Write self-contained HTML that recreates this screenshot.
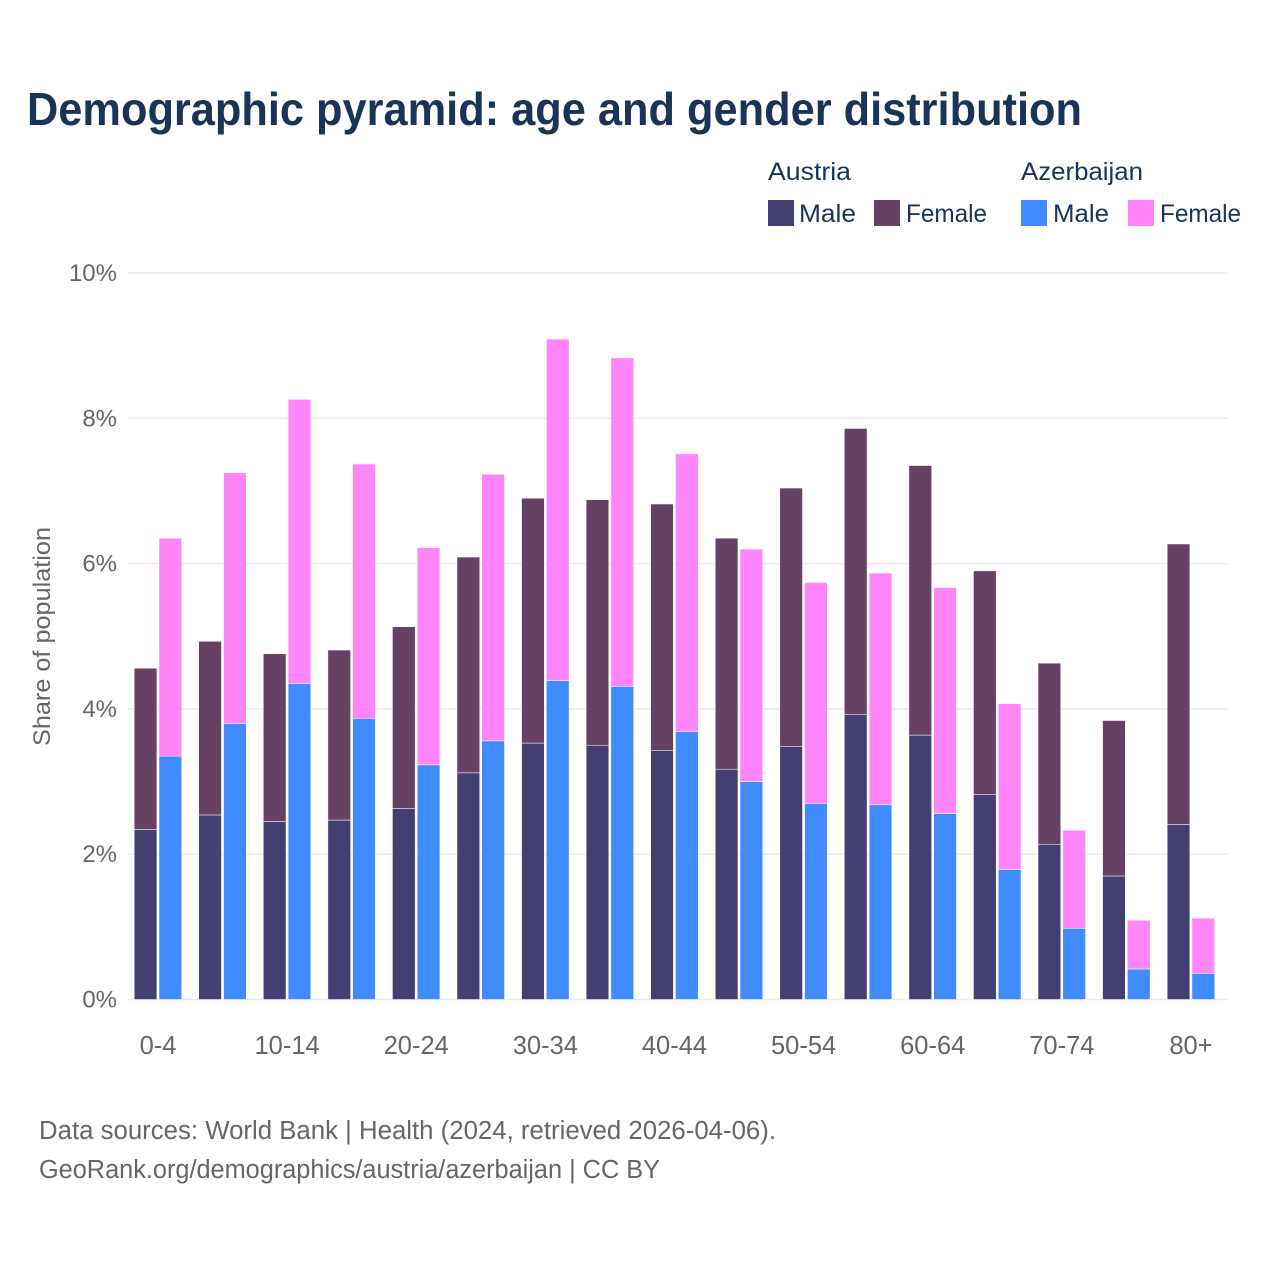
<!DOCTYPE html>
<html lang="en">
<head>
<meta charset="utf-8">
<title>Demographic pyramid</title>
<style>
html,body{margin:0;padding:0;background:#fff}
svg{display:block}
text{font-family:"Liberation Sans",Arial,sans-serif}
.legend{font-size:25px;fill:#1a3356}
.tick{font-size:24px;fill:#666}
.xtick{font-size:25.5px;fill:#666}
.foot{font-size:25.5px;fill:#666}
</style>
</head>
<body>
<svg id="chart" xmlns="http://www.w3.org/2000/svg" width="1280" height="1280" viewBox="0 0 1280 1280">
  <rect x="0" y="0" width="1280" height="1280" fill="#fff"/>
  <text x="27" y="125" font-size="46" font-weight="700" fill="#1a3356" textLength="1055" lengthAdjust="spacingAndGlyphs">Demographic pyramid: age and gender distribution</text>

  <g>
    <text class="legend" x="768" y="180" textLength="83" lengthAdjust="spacingAndGlyphs">Austria</text>
    <text class="legend" x="1021" y="180" textLength="122" lengthAdjust="spacingAndGlyphs">Azerbaijan</text>
    <rect x="768" y="200" width="26" height="26" fill="#433f70"/>
    <text class="legend" x="799" y="222" textLength="57" lengthAdjust="spacingAndGlyphs">Male</text>
    <rect x="874" y="200" width="26" height="26" fill="#664163"/>
    <text class="legend" x="906" y="222" textLength="81" lengthAdjust="spacingAndGlyphs">Female</text>
    <rect x="1021" y="200" width="26" height="26" fill="#3f8bff"/>
    <text class="legend" x="1053" y="222" textLength="56" lengthAdjust="spacingAndGlyphs">Male</text>
    <rect x="1128" y="200" width="26" height="26" fill="#ff85f9"/>
    <text class="legend" x="1160" y="222" textLength="81" lengthAdjust="spacingAndGlyphs">Female</text>
  </g>

  <g id="grid"></g>
  <g id="bars"></g>
  <g id="yticks"></g>
  <g id="xticks"></g>

  <text class="tick" transform="translate(50,636.5) rotate(-90)" text-anchor="middle" textLength="219" lengthAdjust="spacingAndGlyphs">Share of population</text>

  <text class="foot" x="39" y="1139" textLength="737" lengthAdjust="spacingAndGlyphs">Data sources: World Bank | Health (2024, retrieved 2026-04-06).</text>
  <text class="foot" x="39" y="1178" textLength="621" lengthAdjust="spacingAndGlyphs">GeoRank.org/demographics/austria/azerbaijan | CC BY</text>
</svg>
<script>
const categories = ["0-4","5-9","10-14","15-19","20-24","25-29","30-34","35-39","40-44","45-49","50-54","55-59","60-64","65-69","70-74","75-79","80+"];
const xTickLabels = ["0-4","","10-14","","20-24","","30-34","","40-44","","50-54","","60-64","","70-74","","80+"];
const austriaMale = [2.34,2.54,2.45,2.47,2.63,3.12,3.53,3.50,3.43,3.17,3.48,3.92,3.64,2.82,2.13,1.70,2.41];
const austriaFemale = [2.22,2.39,2.31,2.34,2.50,2.97,3.37,3.38,3.39,3.18,3.56,3.94,3.71,3.08,2.50,2.14,3.86];
const azerbaijanMale = [3.35,3.80,4.35,3.87,3.23,3.56,4.39,4.31,3.69,3.00,2.70,2.68,2.56,1.79,0.98,0.42,0.36];
const azerbaijanFemale = [3.00,3.45,3.91,3.50,2.99,3.67,4.70,4.52,3.82,3.20,3.04,3.19,3.11,2.28,1.35,0.67,0.76];
const yTickValues = [0,2,4,6,8,10];

const NS = "http://www.w3.org/2000/svg";
function yScale(v){ return 999.5 - v * 72.65; }
function xCenter(i){ return 158 + i * 64.56; }
const barWidth = 22.7;

const grid = document.getElementById("grid");
const yticks = document.getElementById("yticks");
yTickValues.forEach(function(v){
  const line = document.createElementNS(NS,"line");
  
  
  line.setAttribute("x1",128);
  line.setAttribute("x2",1228);
  line.setAttribute("y1",yScale(v));
  line.setAttribute("y2",yScale(v));
  line.setAttribute("stroke","#ebebf1");
  line.setAttribute("stroke-width","1.5");
  grid.appendChild(line);
  const t = document.createElementNS(NS,"text");
  
  
  t.setAttribute("class","tick");
  t.setAttribute("x",117);
  t.setAttribute("y",yScale(v)+8);
  t.setAttribute("text-anchor","end");
  t.textContent = v + "%";
  yticks.appendChild(t);
});

const xticks = document.getElementById("xticks");
xTickLabels.forEach(function(label,i){
  if(!label) return;
  const t = document.createElementNS(NS,"text");
  
  
  t.setAttribute("class","xtick");
  t.setAttribute("x",xCenter(i));
  t.setAttribute("y",1054);
  t.setAttribute("text-anchor","middle");
  t.textContent = label;
  xticks.appendChild(t);
});

const bars = document.getElementById("bars");
function addBar(x,v0,v1,fill,i){
  const r = document.createElementNS(NS,"rect");
  
  
  r.setAttribute("x",x);
  r.setAttribute("width",barWidth);
  r.setAttribute("y",yScale(v1));
  r.setAttribute("height",yScale(v0)-yScale(v1));
  r.setAttribute("fill",fill);
  r.setAttribute("stroke","#fff");
  r.setAttribute("stroke-width","0.5");
  r.setAttribute("aria-label",categories[i]);
  bars.appendChild(r);
}
categories.forEach(function(c,i){
  const cx = xCenter(i);
  addBar(cx-23.8,0,austriaMale[i],"#433f70",i);
  addBar(cx-23.8,austriaMale[i],austriaMale[i]+austriaFemale[i],"#664163",i);
  addBar(cx+1,0,azerbaijanMale[i],"#3f8bff",i);
  addBar(cx+1,azerbaijanMale[i],azerbaijanMale[i]+azerbaijanFemale[i],"#ff85f9",i);
});
</script>
</body>
</html>
